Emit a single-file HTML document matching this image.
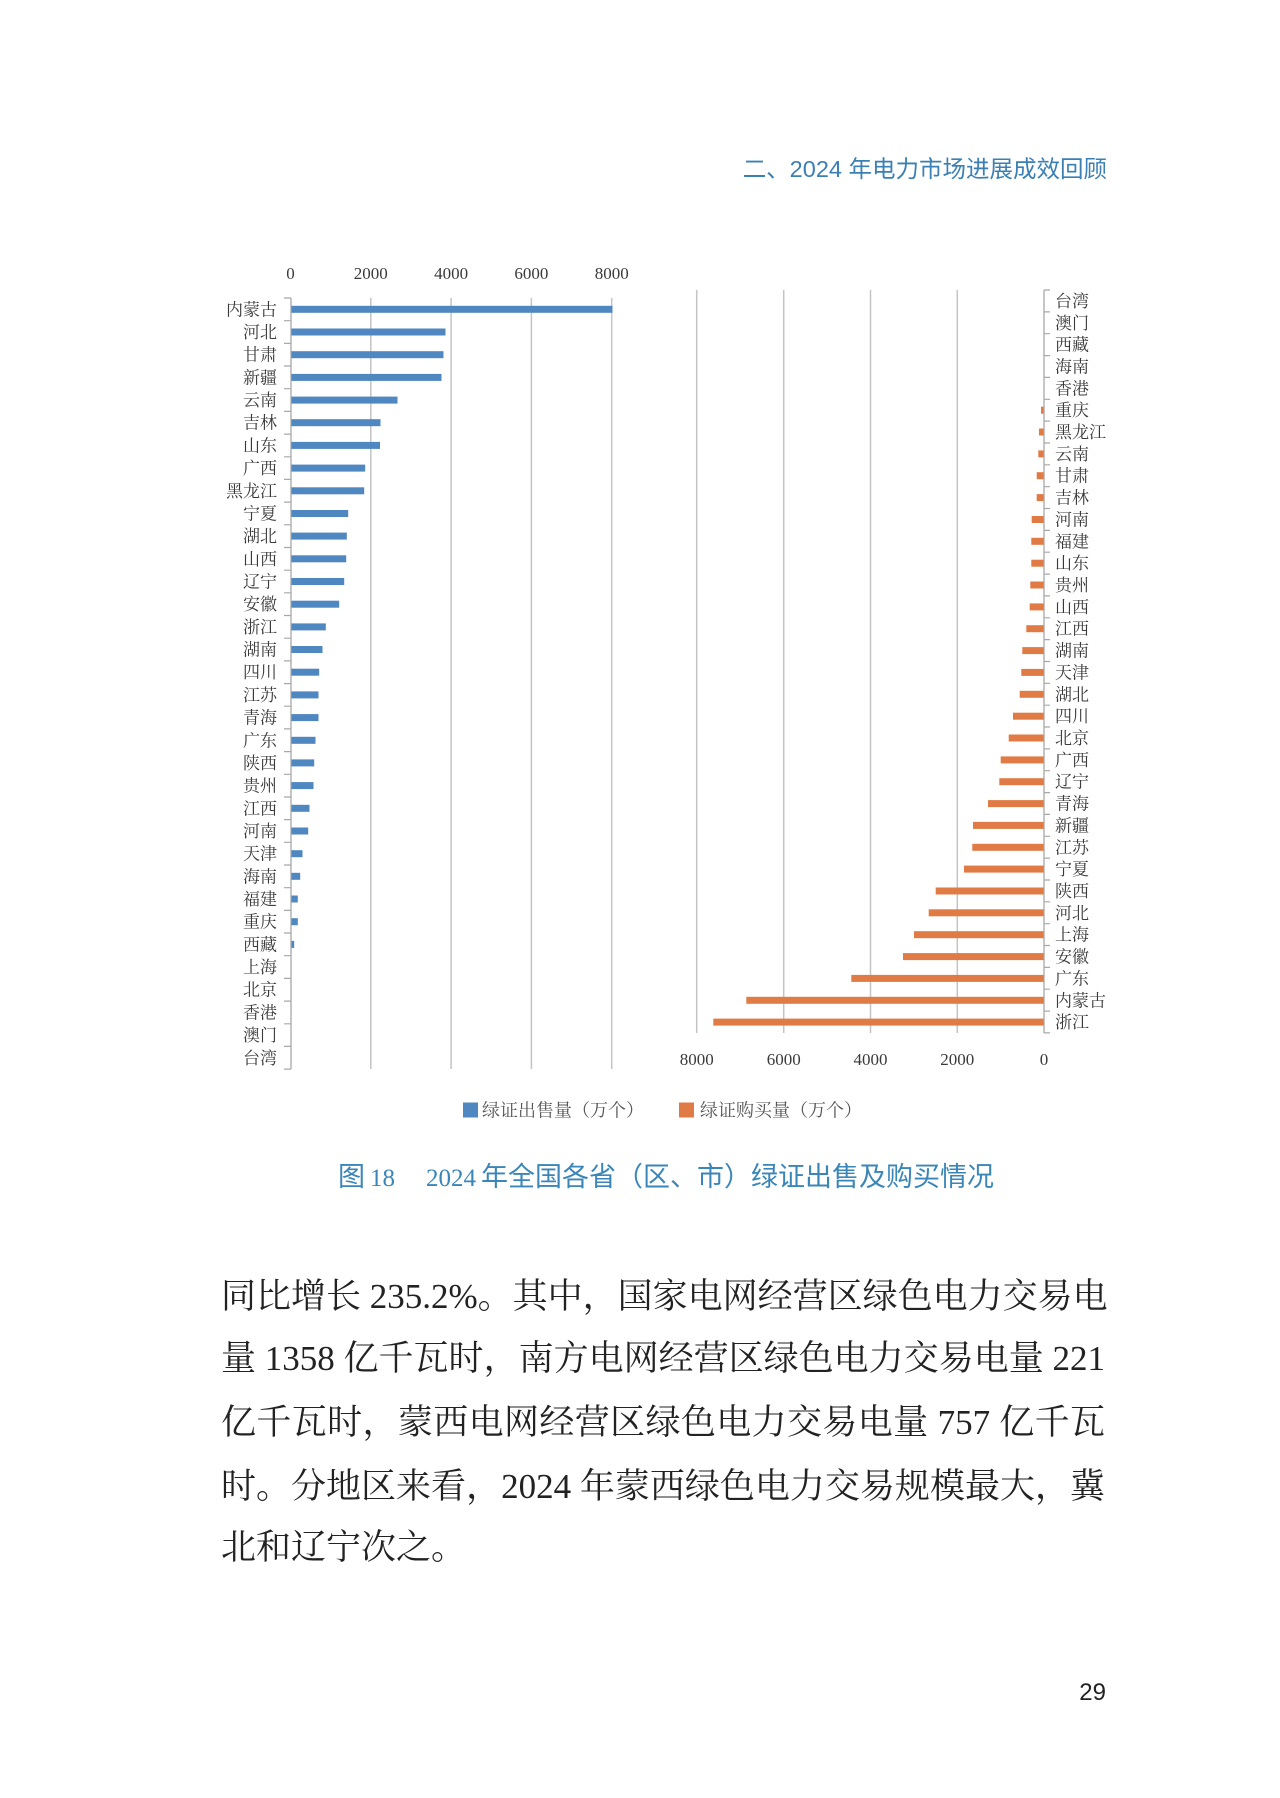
<!DOCTYPE html>
<html><head><meta charset="utf-8">
<style>
html,body{margin:0;padding:0;background:#fff;}
body{width:1280px;height:1798px;position:relative;overflow:hidden;}
svg{position:absolute;left:0;top:0;}
.lbl{font-family:"Liberation Serif","Noto Serif CJK SC",serif;font-size:17px;fill:#3a3a3a;}
.tick{font-family:"Liberation Serif","Noto Serif CJK SC",serif;font-size:17px;fill:#3a3a3a;}
.leg{font-family:"Liberation Serif","Noto Serif CJK SC",serif;font-size:18px;fill:#555;}
.body{position:absolute;left:221px;width:884px;font-family:"Liberation Serif","Noto Serif CJK SC",serif;font-size:35px;line-height:50px;height:50px;color:#222;white-space:nowrap;}
.j{text-align:justify;text-align-last:justify;}
</style></head>
<body>
<svg width="1280" height="1798" viewBox="0 0 1280 1798" xmlns="http://www.w3.org/2000/svg">
<!-- header -->
<text x="1107" y="177" text-anchor="end" font-family="Liberation Sans,Noto Sans CJK SC,sans-serif" font-size="23.5" fill="#3b80b4">二、2024 年电力市场进展成效回顾</text>

<!-- LEFT CHART -->
<g stroke="#c4c4c4" stroke-width="1.5">
<line x1="370.8" y1="298" x2="370.8" y2="1069"/>
<line x1="451.1" y1="298" x2="451.1" y2="1069"/>
<line x1="531.4" y1="298" x2="531.4" y2="1069"/>
<line x1="611.7" y1="298" x2="611.7" y2="1069"/>
</g>
<g class="tick" text-anchor="middle">
<text x="290.5" y="279">0</text>
<text x="370.8" y="279">2000</text>
<text x="451.1" y="279">4000</text>
<text x="531.4" y="279">6000</text>
<text x="611.7" y="279">8000</text>
</g>
<line x1="291" y1="298" x2="291" y2="1069" stroke="#a8a8a8" stroke-width="1.3"/>
<path stroke="#a8a8a8" stroke-width="1.2" fill="none" d="M284 298H291M284 320.7H291M284 343.4H291M284 366H291M284 388.7H291M284 411.4H291M284 434.1H291M284 456.8H291M284 479.4H291M284 502.1H291M284 524.8H291M284 547.5H291M284 570.2H291M284 592.8H291M284 615.5H291M284 638.2H291M284 660.9H291M284 683.6H291M284 706.2H291M284 728.9H291M284 751.6H291M284 774.3H291M284 797H291M284 819.6H291M284 842.3H291M284 865H291M284 887.7H291M284 910.4H291M284 933H291M284 955.7H291M284 978.4H291M284 1001.1H291M284 1023.8H291M284 1046.4H291M284 1069.1H291"/>
<g fill="#4f87c0">
<rect x="291.5" y="305.8" width="321" height="7"/>
<rect x="291.5" y="328.5" width="154" height="7"/>
<rect x="291.5" y="351.2" width="152" height="7"/>
<rect x="291.5" y="373.9" width="150" height="7"/>
<rect x="291.5" y="396.6" width="106" height="7"/>
<rect x="291.5" y="419.2" width="89" height="7"/>
<rect x="291.5" y="441.9" width="88.5" height="7"/>
<rect x="291.5" y="464.6" width="73.7" height="7"/>
<rect x="291.5" y="487.3" width="72.7" height="7"/>
<rect x="291.5" y="510" width="56.7" height="7"/>
<rect x="291.5" y="532.6" width="55.3" height="7"/>
<rect x="291.5" y="555.3" width="54.7" height="7"/>
<rect x="291.5" y="578" width="52.7" height="7"/>
<rect x="291.5" y="600.7" width="47.7" height="7"/>
<rect x="291.5" y="623.4" width="34.3" height="7"/>
<rect x="291.5" y="646" width="31" height="7"/>
<rect x="291.5" y="668.7" width="27.7" height="7"/>
<rect x="291.5" y="691.4" width="27" height="7"/>
<rect x="291.5" y="714.1" width="27" height="7"/>
<rect x="291.5" y="736.8" width="24" height="7"/>
<rect x="291.5" y="759.4" width="22.7" height="7"/>
<rect x="291.5" y="782.1" width="22" height="7"/>
<rect x="291.5" y="804.8" width="18" height="7"/>
<rect x="291.5" y="827.5" width="16.7" height="7"/>
<rect x="291.5" y="850.2" width="11" height="7"/>
<rect x="291.5" y="872.8" width="8.7" height="7"/>
<rect x="291.5" y="895.5" width="6.3" height="7"/>
<rect x="291.5" y="918.2" width="6.3" height="7"/>
<rect x="291.5" y="940.9" width="2.7" height="7"/>
</g>
<g class="lbl" text-anchor="end">
<text x="277" y="315.3">内蒙古</text>
<text x="277" y="338">河北</text>
<text x="277" y="360.7">甘肃</text>
<text x="277" y="383.4">新疆</text>
<text x="277" y="406.1">云南</text>
<text x="277" y="428.7">吉林</text>
<text x="277" y="451.4">山东</text>
<text x="277" y="474.1">广西</text>
<text x="277" y="496.8">黑龙江</text>
<text x="277" y="519.5">宁夏</text>
<text x="277" y="542.1">湖北</text>
<text x="277" y="564.8">山西</text>
<text x="277" y="587.5">辽宁</text>
<text x="277" y="610.2">安徽</text>
<text x="277" y="632.9">浙江</text>
<text x="277" y="655.5">湖南</text>
<text x="277" y="678.2">四川</text>
<text x="277" y="700.9">江苏</text>
<text x="277" y="723.6">青海</text>
<text x="277" y="746.3">广东</text>
<text x="277" y="768.9">陕西</text>
<text x="277" y="791.6">贵州</text>
<text x="277" y="814.3">江西</text>
<text x="277" y="837">河南</text>
<text x="277" y="859.7">天津</text>
<text x="277" y="882.3">海南</text>
<text x="277" y="905">福建</text>
<text x="277" y="927.7">重庆</text>
<text x="277" y="950.4">西藏</text>
<text x="277" y="973.1">上海</text>
<text x="277" y="995.7">北京</text>
<text x="277" y="1018.4">香港</text>
<text x="277" y="1041.1">澳门</text>
<text x="277" y="1063.8">台湾</text>
</g>

<!-- RIGHT CHART -->
<g stroke="#c4c4c4" stroke-width="1.5">
<line x1="696.7" y1="290" x2="696.7" y2="1033"/>
<line x1="783.7" y1="290" x2="783.7" y2="1033"/>
<line x1="870.5" y1="290" x2="870.5" y2="1033"/>
<line x1="957.3" y1="290" x2="957.3" y2="1033"/>
</g>
<g class="tick" text-anchor="middle">
<text x="696.7" y="1065">8000</text>
<text x="783.7" y="1065">6000</text>
<text x="870.5" y="1065">4000</text>
<text x="957.3" y="1065">2000</text>
<text x="1044" y="1065">0</text>
</g>
<line x1="1044" y1="290" x2="1044" y2="1033" stroke="#a8a8a8" stroke-width="1.3"/>
<path stroke="#a8a8a8" stroke-width="1.2" fill="none" d="M1044 290H1050M1044 311.9H1050M1044 333.7H1050M1044 355.6H1050M1044 377.4H1050M1044 399.3H1050M1044 421.1H1050M1044 443H1050M1044 464.8H1050M1044 486.7H1050M1044 508.5H1050M1044 530.4H1050M1044 552.2H1050M1044 574.1H1050M1044 595.9H1050M1044 617.8H1050M1044 639.6H1050M1044 661.5H1050M1044 683.3H1050M1044 705.2H1050M1044 727H1050M1044 748.9H1050M1044 770.7H1050M1044 792.6H1050M1044 814.4H1050M1044 836.3H1050M1044 858.1H1050M1044 880H1050M1044 901.8H1050M1044 923.7H1050M1044 945.5H1050M1044 967.4H1050M1044 989.2H1050M1044 1011.1H1050M1044 1032.9H1050"/>
<g fill="#e07b45">
<rect x="1041" y="406.7" width="2.5" height="7"/>
<rect x="1039" y="428.5" width="4.5" height="7"/>
<rect x="1038.3" y="450.4" width="5.2" height="7"/>
<rect x="1036.7" y="472.2" width="6.8" height="7"/>
<rect x="1036.7" y="494.1" width="6.8" height="7"/>
<rect x="1031.7" y="516" width="11.8" height="7"/>
<rect x="1031.3" y="537.8" width="12.2" height="7"/>
<rect x="1031.3" y="559.7" width="12.2" height="7"/>
<rect x="1030.3" y="581.5" width="13.2" height="7"/>
<rect x="1029.7" y="603.4" width="13.8" height="7"/>
<rect x="1026.3" y="625.2" width="17.2" height="7"/>
<rect x="1022.3" y="647.1" width="21.2" height="7"/>
<rect x="1021.3" y="668.9" width="22.2" height="7"/>
<rect x="1019.7" y="690.8" width="23.8" height="7"/>
<rect x="1013" y="712.7" width="30.5" height="7"/>
<rect x="1008.7" y="734.5" width="34.8" height="7"/>
<rect x="1000.7" y="756.4" width="42.8" height="7"/>
<rect x="999.3" y="778.2" width="44.2" height="7"/>
<rect x="988" y="800.1" width="55.5" height="7"/>
<rect x="973" y="821.9" width="70.5" height="7"/>
<rect x="972.3" y="843.8" width="71.2" height="7"/>
<rect x="964" y="865.6" width="79.5" height="7"/>
<rect x="935.7" y="887.5" width="107.8" height="7"/>
<rect x="928.7" y="909.3" width="114.8" height="7"/>
<rect x="914" y="931.2" width="129.5" height="7"/>
<rect x="903" y="953.1" width="140.5" height="7"/>
<rect x="851.3" y="974.9" width="192.2" height="7"/>
<rect x="746.3" y="996.8" width="297.2" height="7"/>
<rect x="713.3" y="1018.6" width="330.2" height="7"/>
</g>
<g class="lbl">
<text x="1055" y="306.9">台湾</text>
<text x="1055" y="328.8">澳门</text>
<text x="1055" y="350.6">西藏</text>
<text x="1055" y="372.5">海南</text>
<text x="1055" y="394.3">香港</text>
<text x="1055" y="416.2">重庆</text>
<text x="1055" y="438">黑龙江</text>
<text x="1055" y="459.9">云南</text>
<text x="1055" y="481.7">甘肃</text>
<text x="1055" y="503.6">吉林</text>
<text x="1055" y="525.5">河南</text>
<text x="1055" y="547.3">福建</text>
<text x="1055" y="569.2">山东</text>
<text x="1055" y="591">贵州</text>
<text x="1055" y="612.9">山西</text>
<text x="1055" y="634.7">江西</text>
<text x="1055" y="656.6">湖南</text>
<text x="1055" y="678.4">天津</text>
<text x="1055" y="700.3">湖北</text>
<text x="1055" y="722.2">四川</text>
<text x="1055" y="744">北京</text>
<text x="1055" y="765.9">广西</text>
<text x="1055" y="787.7">辽宁</text>
<text x="1055" y="809.6">青海</text>
<text x="1055" y="831.4">新疆</text>
<text x="1055" y="853.3">江苏</text>
<text x="1055" y="875.1">宁夏</text>
<text x="1055" y="897">陕西</text>
<text x="1055" y="918.8">河北</text>
<text x="1055" y="940.7">上海</text>
<text x="1055" y="962.6">安徽</text>
<text x="1055" y="984.4">广东</text>
<text x="1055" y="1006.3">内蒙古</text>
<text x="1055" y="1028.1">浙江</text>
</g>

<!-- legend -->
<rect x="463" y="1102.5" width="15" height="15" fill="#4f87c0"/>
<text class="leg" x="482" y="1116.5">绿证出售量（万个）</text>
<rect x="679" y="1102.5" width="15" height="15" fill="#e07b45"/>
<text class="leg" x="700" y="1116.5">绿证购买量（万个）</text>

<!-- caption -->
<text y="1186" font-family="Liberation Sans,Noto Sans CJK SC,sans-serif" font-size="27" fill="#3b86b9"><tspan x="338">图</tspan><tspan x="370" font-family="Liberation Serif,serif" font-size="25">18</tspan><tspan x="426" font-family="Liberation Serif,serif" font-size="25">2024</tspan><tspan x="481">年全国各省（区、市）绿证出售及购买情况</tspan></text>

<!-- page number -->
<text x="1106" y="1700" text-anchor="end" font-family="Liberation Sans,sans-serif" font-size="24" fill="#222">29</text>
</svg>

<div class="body j" style="top:1272px;">同比增长 235.2%。其中，国家电网经营区绿色电力交易电</div>
<div class="body j" style="top:1334px;">量 1358 亿千瓦时，南方电网经营区绿色电力交易电量 221</div>
<div class="body j" style="top:1398px;">亿千瓦时，蒙西电网经营区绿色电力交易电量 757 亿千瓦</div>
<div class="body j" style="top:1462px;">时。分地区来看，2024 年蒙西绿色电力交易规模最大，冀</div>
<div class="body" style="top:1523px;">北和辽宁次之。</div>
</body></html>
